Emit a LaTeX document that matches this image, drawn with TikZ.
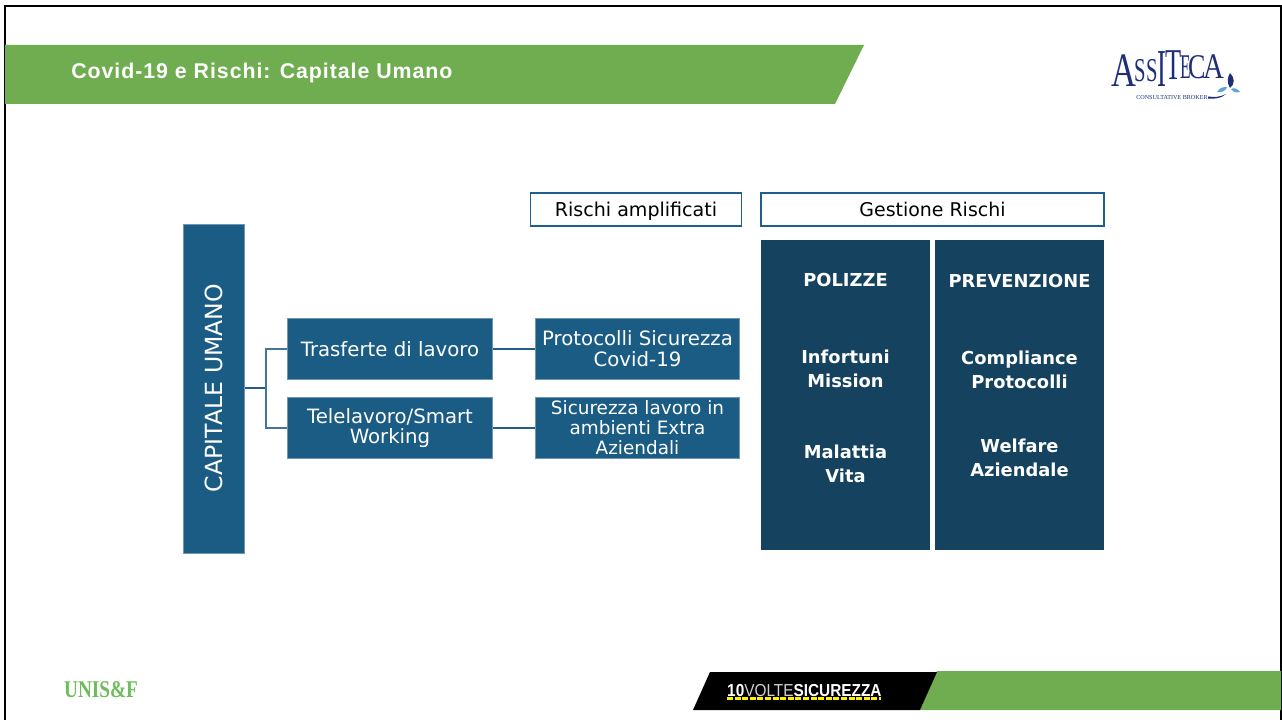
\documentclass[tikz,border=0pt]{standalone}
\usepackage{fontspec}
\setmainfont{DejaVu Sans}
\newfontfamily\logoserif{Liberation Serif}
\newfontfamily\headfont[LetterSpace=4.5]{Liberation Sans}
\newfontfamily\tenfont{Liberation Sans}
\definecolor{midblue}{HTML}{1B5C85}
\definecolor{edgeblue}{HTML}{6F95B0}
\definecolor{deepblue}{HTML}{14425F}
\definecolor{barblue}{HTML}{1F5F8B}
\definecolor{bargreen}{HTML}{70AD50}
\definecolor{logoblue}{HTML}{1E2F7A}
\definecolor{leafblue}{HTML}{5BA5DC}
\definecolor{unisgreen}{HTML}{6DBE5A}
\tikzset{
  px/.style={x=0.75pt,y=-0.75pt},
  bluebox/.style={draw=edgeblue,line width=0.5pt,fill=midblue,text=white,align=center,inner sep=0pt,font=\fontsize{14.8}{15.6}\selectfont},
  headbox/.style={draw=barblue,line width=1.1pt,fill=white,text=black,align=center,inner sep=0pt,text height=13.5pt,text depth=3pt,font=\fontsize{14.3}{16}\selectfont},
  darkbox/.style={fill=deepblue,inner sep=0pt},
  darktext/.style={text=white,align=center,inner sep=0pt,font=\bfseries\fontsize{13.4}{18}\selectfont},
  logoletter/.style={anchor=base west,inner sep=0pt,text=logoblue},
  link/.style={draw=barblue,line width=1.1pt},
}
\begin{document}
\begin{tikzpicture}[px]
\useasboundingbox (0,0) rectangle (1282,720);
\fill[white] (0,0) rectangle (1282,720);
% slide frame
\draw[black,line width=1.5pt] (5,720) -- (5,6) -- (1281,6) -- (1281,720);
% title bar
\fill[bargreen] (5,45) -- (864,45) -- (835,104) -- (5,104) -- cycle;
\node[anchor=west,text=white,inner sep=0pt,font=\headfont\bfseries\fontsize{16}{18}\selectfont] (title) at (71,72.5) {Covid-19 e Rischi: Capitale Umano};
% Assiteca logo
\node[logoletter,font=\logoserif\fontsize{36}{36}\selectfont,xscale=0.72] (la) at (1111,87) {A};
\node[logoletter,font=\logoserif\fontsize{25}{25}\selectfont,xscale=0.62] (ls) at (1134,82) {S};
\node[logoletter,font=\logoserif\fontsize{25}{25}\selectfont,xscale=0.62] (lt) at (1146,82) {S};
\node[logoletter,font=\logoserif\fontsize{40}{40}\selectfont,xscale=0.5] (li) at (1157,87) {I};
\node[logoletter,font=\logoserif\fontsize{33}{33}\selectfont,xscale=0.6] (lu) at (1165,80) {T};
\node[logoletter,font=\logoserif\fontsize{26}{26}\selectfont,xscale=0.5] (le) at (1180,79) {E};
\node[logoletter,font=\logoserif\fontsize{26}{26}\selectfont,xscale=0.75] (lc) at (1188,79) {C};
\node[logoletter,font=\logoserif\fontsize{27}{27}\selectfont,xscale=0.8] (ld) at (1203,79) {A};
\node[anchor=base west,inner sep=0pt,text=logoblue,font=\logoserif\fontsize{4.6}{5}\selectfont] (broker) at (1136,100) {CONSULTATIVE BROKER};
\fill[logoblue] (1230,73) .. controls (1235,78) and (1235,84) .. (1230,88) .. controls (1227,83) and (1227,78) .. (1230,73) -- cycle;
\fill[leafblue] (1217,92) .. controls (1220,87) and (1224,87) .. (1227,87) .. controls (1226,91) and (1221,93) .. (1217,92) -- cycle;
\fill[leafblue] (1231,89) .. controls (1234,87) and (1238,89) .. (1240,92) .. controls (1236,93) and (1233,92) .. (1231,89) -- cycle;
\fill[logoblue] (1208,96.5) .. controls (1215,97.5) and (1220,97) .. (1226,94) .. controls (1221,98.5) and (1215,99) .. (1208,98.5) -- cycle;
% main diagram
\node[bluebox,minimum width=46pt,minimum height=247pt] (cap) at (214,389) {};
\node[text=white,rotate=90,inner sep=0pt,font=\fontsize{17.7}{18}\selectfont] (captext) at (213.5,388) {CAPITALE UMANO};
\node[bluebox,minimum width=154pt,minimum height=46pt] (tr) at (390,349) {Trasferte di lavoro};
\node[bluebox,minimum width=154pt,minimum height=46pt] (tw) at (390,428) {Telelavoro/Smart\\Working};
\node[bluebox,minimum width=153.25pt,minimum height=46pt] (pr) at (637.5,349) {Protocolli Sicurezza\\Covid-19};
\node[bluebox,minimum width=153.25pt,minimum height=46pt,font=\fontsize{13.8}{15}\selectfont] (si) at (637.5,428) {Sicurezza lavoro in\\ambienti Extra\\Aziendali};
\node[headbox,minimum width=158pt,minimum height=25pt] (ra) at (636,209.5) {Rischi amplificati};
\node[headbox,minimum width=257pt,minimum height=25pt,font=\fontsize{14.2}{16}\selectfont] (gr) at (932.5,209.5) {Gestione Rischi};
\node[darkbox,minimum width=126.75pt,minimum height=232.5pt] (pol) at (845.5,395) {};
\node[darkbox,minimum width=126.75pt,minimum height=232.5pt] (pre) at (1019.5,395) {};
\node[darktext] (t1) at (845.5,280) {POLIZZE};
\node[darktext] (t2) at (845.5,369) {Infortuni\\Mission};
\node[darktext] (t3) at (845.5,463.5) {Malattia\\Vita};
\node[darktext] (t4) at (1019.5,281) {PREVENZIONE};
\node[darktext] (t5) at (1019.5,370) {Compliance\\Protocolli};
\node[darktext] (t6) at (1019.5,458) {Welfare\\Aziendale};
% connectors
\coordinate (j) at (266,388);
\draw[link] (cap.east |- j) -- (j);
\draw[link,draw=barblue!85!white] (tr.west) -| (j);
\draw[link,draw=barblue!85!white] (tw.west) -| (j);
\draw[link] (tr.east) -- (pr.west);
\draw[link] (tw.east) -- (si.west);
% footer
\fill[bargreen] (920,710) -- (937,671) -- (1281,671) -- (1281,710) -- cycle;
\fill[black] (693,710) -- (710,672) -- (937,672) -- (920,710) -- cycle;
\node[anchor=base west,inner sep=0pt,text=white,font=\tenfont\fontsize{13}{15}\selectfont,xscale=0.887] (ten) at (727,696) {\textbf{10}\textcolor{white!82!black}{VOLTE}\textbf{SICUREZZA}};
\draw[yellow,line width=1.6pt,dash pattern=on 4.5pt off 1.2pt] (ten.base west |- 0,698.5) -- (881,698.5);
\node[anchor=base west,inner sep=0pt,text=unisgreen,font=\logoserif\bfseries\fontsize{18}{18}\selectfont,xscale=0.8] (unis) at (64,697) {UNIS\&F};
\end{tikzpicture}
\end{document}
